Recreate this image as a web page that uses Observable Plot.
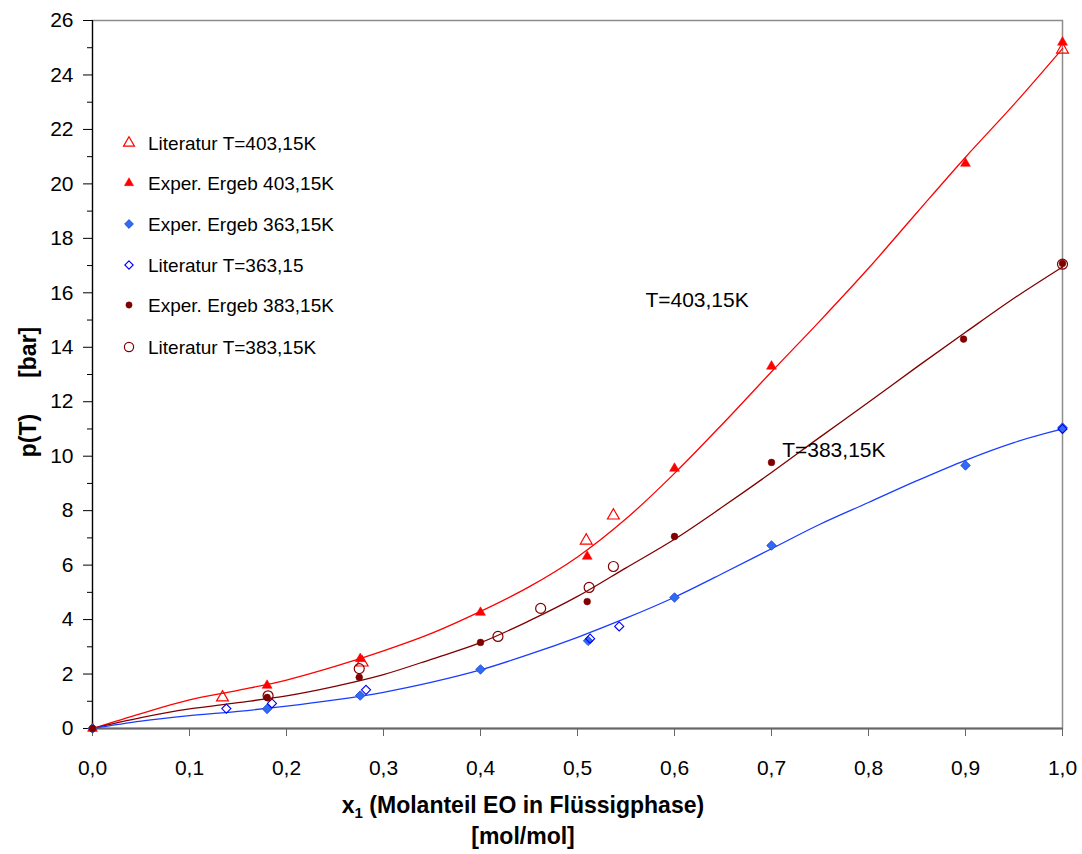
<!DOCTYPE html>
<html>
<head>
<meta charset="utf-8">
<script src="https://cdn.jsdelivr.net/npm/d3@7"></script>
<script src="https://cdn.jsdelivr.net/npm/@observablehq/plot@0.6"></script>
<style>
  html, body { margin: 0; padding: 0; background: #fff; }
  svg text { font-family: "Liberation Sans", Arial, sans-serif; }
</style>
</head>
<body>
<div id="chart"></div>
<script>
// ---- measured points ----
const lit403X = [0.134, 0.278, 0.509, 0.537, 1.0];
const lit403Y = [1.14, 2.42, 6.9, 7.82, 24.93];
const exp403X = [0, 0.18, 0.276, 0.4, 0.51, 0.6, 0.7, 0.9, 1.0];
const exp403Y = [0, 1.58, 2.56, 4.26, 6.32, 9.55, 13.3, 20.75, 25.2];
const exp363X = [0, 0.18, 0.276, 0.4, 0.511, 0.6, 0.7, 0.9, 1.0];
const exp363Y = [0, 0.72, 1.21, 2.17, 3.22, 4.81, 6.72, 9.66, 11.05];
const lit363X = [0.138, 0.185, 0.282, 0.513, 0.543, 1.0];
const lit363Y = [0.73, 0.92, 1.42, 3.3, 3.75, 11.0];
const exp383X = [0, 0.18, 0.275, 0.4, 0.51, 0.6, 0.7, 0.898, 1.0];
const exp383Y = [0, 1.14, 1.88, 3.16, 4.66, 7.05, 9.77, 14.3, 17.08];
const lit383X = [0.181, 0.275, 0.418, 0.462, 0.512, 0.537, 1.0];
const lit383Y = [1.2, 2.2, 3.38, 4.41, 5.18, 5.95, 17.05];

// ---- fitted curves ----
const curveX = [0, 0.05, 0.1, 0.15, 0.2, 0.25, 0.3, 0.35, 0.4, 0.45, 0.5, 0.55, 0.6, 0.65, 0.7, 0.75, 0.8, 0.85, 0.9, 0.95, 1.0];
const curve403 = [0, 0.55, 1.05, 1.4, 1.78, 2.28, 2.85, 3.5, 4.3, 5.2, 6.3, 7.7, 9.37, 11.2, 13.1, 14.97, 16.9, 18.95, 20.98, 22.92, 24.97];
const curve383 = [0, 0.4, 0.72, 0.95, 1.2, 1.55, 1.98, 2.55, 3.15, 3.95, 4.85, 5.9, 6.95, 8.15, 9.4, 10.7, 11.98, 13.28, 14.55, 15.8, 16.95];
const curve363 = [0, 0.27, 0.47, 0.63, 0.82, 1.05, 1.33, 1.7, 2.15, 2.72, 3.35, 4.05, 4.82, 5.7, 6.6, 7.5, 8.3, 9.1, 9.85, 10.5, 11.0];

// ---- ticks & labels ----
const xTicks = [0, 0.1, 0.2, 0.3, 0.4, 0.5, 0.6, 0.7, 0.8, 0.9, 1.0];
const yTicks = [0, 2, 4, 6, 8, 10, 12, 14, 16, 18, 20, 22, 24, 26];
const yMinorTicks = [1, 3, 5, 7, 9, 11, 13, 15, 17, 19, 21, 23, 25];
const annText = ["T=403,15K", "T=383,15K"];
const annX = [0.57, 0.711];
const annY = [15.72, 10.2];
const legendLabels = ["Literatur T=403,15K", "Exper. Ergeb 403,15K", "Exper. Ergeb 363,15K", "Literatur T=363,15", "Exper. Ergeb 383,15K", "Literatur T=383,15K"];
const xTitle = "(Molanteil EO in Flüssigphase)";
const xTitle2 = "[mol/mol]";

const pts = (xs, ys) => xs.map((x, i) => ({x, y: ys[i]}));

const RED = "#ff0000", BROWN = "#800000", BLUE = "#0000ff", BLUEFILL = "#2f6bf3";

const styles = [
  {symbol: "triangle", r: 4.4, fill: "none", stroke: RED, strokeWidth: 1.2},
  {symbol: "triangle", r: 3.7, fill: RED, stroke: RED, strokeWidth: 0.5},
  {symbol: "diamond2", r: 4.3, fill: BLUEFILL, stroke: "#1a3fd0", strokeWidth: 0.8},
  {symbol: "diamond2", r: 4.1, fill: "none", stroke: BLUE, strokeWidth: 1.1},
  {symbol: "circle", r: 3.4, fill: BROWN, stroke: BROWN, strokeWidth: 0.5},
  {symbol: "circle", r: 5.0, fill: "none", stroke: BROWN, strokeWidth: 1.2}
];
const seriesData = [
  pts(lit403X, lit403Y), pts(exp403X, exp403Y), pts(exp363X, exp363Y),
  pts(lit363X, lit363Y), pts(exp383X, exp383Y), pts(lit383X, lit383Y)
];

const fmt = d => d.toFixed(1).replace(".", ",");

const svg = Plot.plot({
  width: 1082,
  height: 854,
  marginLeft: 92,
  marginRight: 20,
  marginTop: 20,
  marginBottom: 126,
  style: {fontFamily: "Liberation Sans, Arial, sans-serif", fontSize: "21px", background: "white", color: "black"},
  x: {domain: [0, 1]},
  y: {domain: [0, 26]},
  marks: [
    Plot.frame({stroke: "#8c8c8c", strokeWidth: 1.5}),
    Plot.axisX({ticks: xTicks, tickFormat: fmt, tickSize: 8, tickPadding: 24, label: null, stroke: "#666", fontSize: 21}),
    Plot.axisY({ticks: yTicks, tickFormat: d => String(d), tickSize: 9, tickPadding: 10, label: null, fontSize: 21}),
    Plot.axisY({ticks: yMinorTicks, tickFormat: () => "", tickSize: 5, label: null}),
    Plot.ruleY([0], {stroke: "#666", strokeWidth: 2}),
    Plot.ruleX([0], {stroke: "black", strokeWidth: 1.2}),
    Plot.line(pts(curveX, curve403), {x: "x", y: "y", stroke: RED, strokeWidth: 1.3, curve: "catmull-rom"}),
    Plot.line(pts(curveX, curve383), {x: "x", y: "y", stroke: BROWN, strokeWidth: 1.3, curve: "catmull-rom"}),
    Plot.line(pts(curveX, curve363), {x: "x", y: "y", stroke: "#1a3cff", strokeWidth: 1.3, curve: "catmull-rom"}),
    ...seriesData.map((d, i) => Plot.dot(d, {x: "x", y: "y", ...styles[i]})),
    Plot.text(annText.map((t, i) => ({t, x: annX[i], y: annY[i]})), {x: "x", y: "y", text: "t", textAnchor: "start", fontSize: 21, fill: "black"})
  ]
});

const s = d3.select(svg);
// legend
const lg = s.append("g").attr("text-anchor", "start");
const symMap = {triangle: d3.symbolTriangle, diamond2: d3.symbolDiamond2, circle: d3.symbolCircle};
const rowY = [143, 183, 224, 265, 305, 347];
legendLabels.forEach((lab, i) => {
  const st = styles[i];
  lg.append("path")
    .attr("transform", `translate(129,${rowY[i]})`)
    .attr("d", d3.symbol(symMap[st.symbol], Math.PI * st.r * st.r * 0.85)())
    .attr("fill", st.fill).attr("stroke", st.stroke).attr("stroke-width", st.strokeWidth);
  lg.append("text").attr("x", 148).attr("y", rowY[i]).attr("dy", "0.35em")
    .attr("text-anchor", "start")
    .attr("font-size", 19).attr("fill", "black").text(lab);
});
// x title
const xt = s.append("text").attr("x", 523).attr("y", 813).attr("text-anchor", "middle")
  .attr("font-size", 23).attr("font-weight", "bold").attr("fill", "black");
xt.append("tspan").text("x");
xt.append("tspan").attr("font-size", 15).attr("dy", 5).text("1");
xt.append("tspan").attr("dy", -5).text(" " + xTitle);
s.append("text").attr("x", 523).attr("y", 844).attr("text-anchor", "middle")
  .attr("font-size", 23).attr("font-weight", "bold").attr("fill", "black").text(xTitle2);
// y title
const yt = s.append("text").attr("transform", "translate(36,392) rotate(-90)").attr("text-anchor", "middle")
  .attr("font-size", 23).attr("font-weight", "bold").attr("fill", "black");
yt.append("tspan").text("p(T)");
yt.append("tspan").attr("dx", 36).text("[bar]");

document.getElementById("chart").appendChild(svg);
</script>
</body>
</html>
